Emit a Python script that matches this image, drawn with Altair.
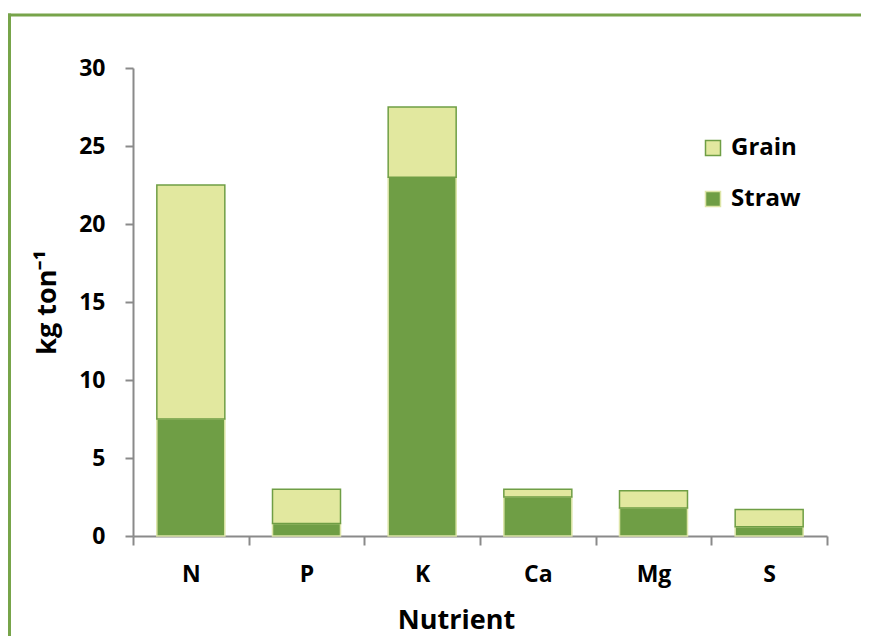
import altair as alt
import pandas as pd

nutrients = ["N", "P", "K", "Ca", "Mg", "S"]
straw = [7.5, 0.8, 23.0, 2.5, 1.8, 0.6]
grain = [15.0, 2.2, 4.5, 0.5, 1.1, 1.1]
series = ["Grain", "Straw"]
fill_colors = ["#e2e89f", "#6f9e45"]
stroke_colors = ["#6f9e45", "#dde5a8"]
y_ticks = [0, 5, 10, 15, 20, 25, 30]

rows = []
for i, n in enumerate(nutrients):
    rows.append({"Nutrient": n, "Part": "Straw", "value": straw[i], "ord": 0})
    rows.append({"Nutrient": n, "Part": "Grain", "value": grain[i], "ord": 1})
df = pd.DataFrame(rows)

FONT = "Open Sans"
AXIS_GRAY = "#8a8a8a"
FRAME = "#77a44a"

bars = alt.Chart(df).mark_bar(size=68, strokeWidth=1.5).encode(
    x=alt.X("Nutrient:N", sort=nutrients,
            scale=alt.Scale(paddingInner=0, paddingOuter=0),
            axis=alt.Axis(title="Nutrient", labelAngle=0, tickBand="extent",
                          labelFontSize=23, labelFont=FONT, labelFontWeight="bold",
                          labelColor="black", labelPadding=18,
                          tickSize=9, tickWidth=2, tickColor=AXIS_GRAY,
                          domainColor=AXIS_GRAY, domainWidth=2,
                          titleFontSize=27, titleFont=FONT, titleFontWeight="bold",
                          titleColor="black", titleX=323, titleY=84,
                          titleBaseline="middle", titleAlign="center")),
    y=alt.Y("value:Q", stack="zero",
            scale=alt.Scale(domain=[0, 30], nice=False),
            axis=alt.Axis(title="kg ton⁻¹", values=y_ticks, grid=False,
                          labelFontSize=23, labelFont=FONT, labelFontWeight="bold",
                          labelColor="black", labelPadding=20,
                          tickSize=8, tickWidth=2, tickColor=AXIS_GRAY,
                          domainColor=AXIS_GRAY, domainWidth=2,
                          titleFontSize=27, titleFont=FONT, titleFontWeight="bold",
                          titleColor="black", titleAngle=-90, titleX=-86, titleY=234,
                          titleBaseline="middle", titleAlign="center")),
    color=alt.Color("Part:N", scale=alt.Scale(domain=series, range=fill_colors),
                    legend=alt.Legend(title=None, orient="none", legendX=568, legendY=68,
                                      labelFontSize=24, labelFont=FONT,
                                      labelFontWeight="bold", labelColor="black",
                                      symbolType="square", symbolSize=225,
                                      symbolStrokeWidth=1.5, rowPadding=27,
                                      labelOffset=6, padding=0)),
    stroke=alt.Stroke("Part:N", scale=alt.Scale(domain=series, range=stroke_colors)),
    order=alt.Order("ord:Q", sort="ascending"),
)

one = alt.Data(values=[{"a": 1}])
frame_left = alt.Chart(one).mark_rule(color=FRAME, strokeWidth=3).encode(
    x=alt.value(-123.5), y=alt.value(-54.5), y2=alt.value(600))
frame_top = alt.Chart(one).mark_rule(color=FRAME, strokeWidth=3).encode(
    x=alt.value(-125), x2=alt.value(760), y=alt.value(-53))

chart = alt.layer(bars, frame_left, frame_top).properties(
    width=694, height=468,
    autosize=alt.AutoSizeParams(type="none"),
    padding={"left": 125, "top": 60, "right": 34, "bottom": 100},
).configure_view(strokeWidth=0)

chart.save("out.html", embed_options={"renderer": "svg", "actions": False})
